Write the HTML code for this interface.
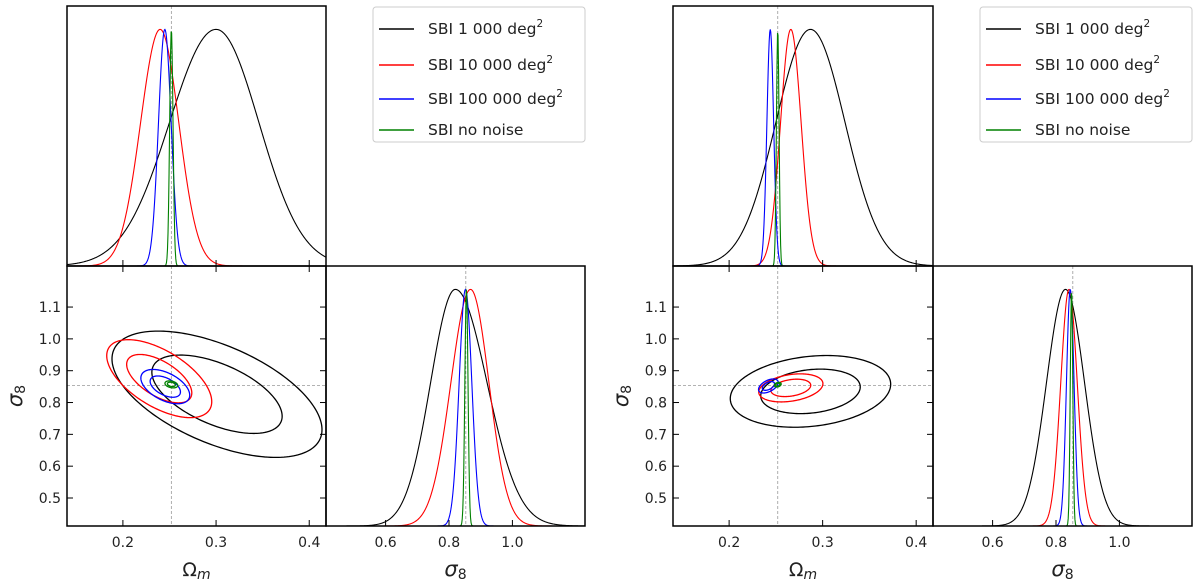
<!DOCTYPE html>
<html><head><meta charset="utf-8">
<style>
html,body{margin:0;padding:0;background:#fff;}
svg{display:block;font-family:"DejaVu Sans","Liberation Sans",sans-serif;}
</style></head>
<body>
<svg id="fig" width="1200" height="583" viewBox="0 0 1200 583" xmlns="http://www.w3.org/2000/svg"></svg>
<script>
// ---- data ----
const seriesNames = ["SBI 1 000 deg", "SBI 10 000 deg", "SBI 100 000 deg", "SBI no noise"];
const seriesSup = ["2", "2", "2", ""];
const seriesColors = ["#000000", "#ff0000", "#0000ff", "#008000"];
const omegaTicks = [0.2, 0.3, 0.4];
const sigmaYTicks = [0.5, 0.6, 0.7, 0.8, 0.9, 1.0, 1.1];
const sigmaXTicks = [0.6, 0.8, 1.0];
const omegaRange = [0.14, 0.418];
const sigmaRange = [0.412, 1.229];
const truthOmega = 0.252;
const truthSigma = 0.853;
// Left figure — Omega_m marginal: mean, left sigma, right sigma
const leftOmMean = [0.300, 0.240, 0.245, 0.252];
const leftOmSigL = [0.050, 0.021, 0.0068, 0.0018];
const leftOmSigR = [0.046, 0.020, 0.0068, 0.0018];
// Left figure — sigma8 marginal
const leftS8Mean = [0.820, 0.868, 0.852, 0.855];
const leftS8SigL = [0.078, 0.062, 0.020, 0.005];
const leftS8SigR = [0.100, 0.058, 0.020, 0.005];
// Left figure — 2D contours: centre Om, centre s8, sd Om, sd s8, correlation
const leftCxOm = [0.301, 0.239, 0.2455, 0.252];
const leftCyS8 = [0.826, 0.875, 0.850, 0.857];
const leftSdOm = [0.046, 0.023, 0.0107, 0.0028];
const leftSdS8 = [0.081, 0.050, 0.022, 0.0045];
const leftRho = [-0.56, -0.59, -0.5, -0.3];
// Right figure — Omega_m marginal
const rightOmMean = [0.287, 0.266, 0.244, 0.252];
const rightOmSigL = [0.037, 0.011, 0.0036, 0.0014];
const rightOmSigR = [0.037, 0.011, 0.0036, 0.0014];
// Right figure — sigma8 marginal
const rightS8Mean = [0.830, 0.841, 0.845, 0.849];
const rightS8SigL = [0.060, 0.026, 0.012, 0.004];
const rightS8SigR = [0.060, 0.026, 0.012, 0.004];
// Right figure — 2D contours
const rightCxOm = [0.287, 0.266, 0.242, 0.252];
const rightCyS8 = [0.835, 0.846, 0.852, 0.856];
const rightSdOm = [0.035, 0.014, 0.0043, 0.0015];
const rightSdS8 = [0.046, 0.018, 0.009, 0.003];
const rightRho = [0.2, 0.3, 0.5, 0.3];
const contourLevels = [1.52, 2.45];

const NS = "http://www.w3.org/2000/svg";
const svg = document.getElementById("fig");
function mk(tag, attrs, parent) {
  const e = document.createElementNS(NS, tag);
  for (const k in attrs) e.setAttribute(k, attrs[k]);
  (parent || svg).appendChild(e);
  return e;
}
function lin(d0, d1, r0, r1) { return v => r0 + (v - d0) / (d1 - d0) * (r1 - r0); }
function dens(x, m, sl, sr) { const s = x < m ? sl : sr; return Math.exp(-0.5 * ((x - m) / s) ** 2); }

function drawFigure(x0, xm, x1, yT, yM, yB, d, id) {
  const g = mk("g", {});
  
  
  const sxOm = lin(omegaRange[0], omegaRange[1], x0, xm);
  const sxS8 = lin(sigmaRange[0], sigmaRange[1], xm, x1);
  const syS8 = lin(sigmaRange[0], sigmaRange[1], yB, yM);
  const peakH = 0.91;
  const tp = mk("g", {}, g);
  
  
  const vdash = mk("line", {x1: sxOm(truthOmega), x2: sxOm(truthOmega), y1: yT, y2: yB, stroke: "#999", "stroke-width": 0.8, "stroke-dasharray": "3,2"}, tp);
  
  
  const sdash = mk("line", {x1: x0, x2: xm, y1: syS8(truthSigma), y2: syS8(truthSigma), stroke: "#999", "stroke-width": 0.8, "stroke-dasharray": "3,2"}, g);
  
  
  const v2 = mk("line", {x1: sxS8(truthSigma), x2: sxS8(truthSigma), y1: yM, y2: yB, stroke: "#999", "stroke-width": 0.8, "stroke-dasharray": "3,2"}, g);
  
  

  for (let i = 0; i < 4; i++) {
    let p = "";
    const N = 500;
    for (let k = 0; k <= N; k++) {
      const v = omegaRange[0] + (omegaRange[1] - omegaRange[0]) * k / N;
      const y = yM - peakH * (yM - yT) * dens(v, d.omM[i], d.omL[i], d.omR[i]);
      p += (k ? "L" : "M") + sxOm(v).toFixed(2) + "," + y.toFixed(2);
    }
    const c = mk("path", {d: p, fill: "none", stroke: seriesColors[i], "stroke-width": 1.1}, tp);
    
    
    let q = "";
    for (let k = 0; k <= N; k++) {
      const v = sigmaRange[0] + (sigmaRange[1] - sigmaRange[0]) * k / N;
      const y = yB - peakH * (yB - yM) * dens(v, d.s8M[i], d.s8L[i], d.s8R[i]);
      q += (k ? "L" : "M") + sxS8(v).toFixed(2) + "," + y.toFixed(2);
    }
    const c2 = mk("path", {d: q, fill: "none", stroke: seriesColors[i], "stroke-width": 1.1}, g);
    
    
    for (const lev of contourLevels) {
      let r = "";
      for (let k = 0; k <= 200; k++) {
        const t = 2 * Math.PI * k / 200;
        const om = d.cx[i] + lev * d.sx[i] * Math.cos(t);
        const s8 = d.cy[i] + lev * d.sy[i] * (d.rho[i] * Math.cos(t) + Math.sqrt(1 - d.rho[i] ** 2) * Math.sin(t));
        r += (k ? "L" : "M") + sxOm(om).toFixed(2) + "," + syS8(s8).toFixed(2);
      }
      const e = mk("path", {d: r + "Z", fill: "none", stroke: seriesColors[i], "stroke-width": 1.3}, g);
      
      
    }
  }
  const frames = [[x0, yT, xm - x0, yM - yT], [x0, yM, xm - x0, yB - yM], [xm, yM, x1 - xm, yB - yM]];
  const fnames = ['top-panel-frame', 'contour-panel-frame', 'sigma8-panel-frame'];
  frames.forEach((f, j) => {
    const r = mk("rect", {x: f[0], y: f[1], width: f[2], height: f[3], fill: "none", stroke: "#000", "stroke-width": 1.5}, g);
    
    
  });
  omegaTicks.forEach(t => {
    const x = sxOm(t);
    mk("line", {x1: x, x2: x, y1: yM - 6, y2: yM + 6, stroke: "#000", "stroke-width": 1}, g);
    mk("line", {x1: x, x2: x, y1: yB, y2: yB - 6, stroke: "#000", "stroke-width": 1}, g);
    const tl = mk("text", {x: x, y: yB + 21, "text-anchor": "middle", "font-size": 14, fill: "#222"}, g);
    tl.textContent = t.toFixed(1);
    
    
  });
  sigmaYTicks.forEach(t => {
    const y = syS8(t);
    mk("line", {x1: x0, x2: x0 + 6, y1: y, y2: y, stroke: "#000", "stroke-width": 1}, g);
    mk("line", {x1: xm, x2: xm - 6, y1: y, y2: y, stroke: "#000", "stroke-width": 1}, g);
    const tl = mk("text", {x: x0 - 6, y: y + 5, "text-anchor": "end", "font-size": 14, fill: "#222"}, g);
    tl.textContent = t.toFixed(1);
    
    
  });
  sigmaXTicks.forEach(t => {
    const x = sxS8(t);
    mk("line", {x1: x, x2: x, y1: yB, y2: yB - 6, stroke: "#000", "stroke-width": 1}, g);
    const tl = mk("text", {x: x, y: yB + 21, "text-anchor": "middle", "font-size": 14, fill: "#222"}, g);
    tl.textContent = t.toFixed(1);
    
    
  });
  const xl = mk("text", {x: (x0 + xm) / 2, y: yB + 50, "text-anchor": "middle", "font-size": 19, fill: "#222"}, g);
  xl.innerHTML = 'Ω<tspan font-style="italic" font-size="14" dy="3">m</tspan>';
  
  
  const xl2 = mk("text", {x: (xm + x1) / 2, y: yB + 50, "text-anchor": "middle", "font-size": 21, "font-style": "italic", fill: "#222"}, g);
  xl2.innerHTML = 'σ<tspan font-size="14" dy="3" font-style="normal">8</tspan>';
  
  
  const yl = mk("text", {x: 0, y: 0, "text-anchor": "middle", "font-size": 21, "font-style": "italic", fill: "#222", transform: `translate(${x0 - 45},${(yM + yB) / 2}) rotate(-90)`}, g);
  yl.innerHTML = 'σ<tspan font-size="14" dy="3" font-style="normal">8</tspan>';
  
  
  const lg = mk("g", {}, g);
  
  
  const lx = xm + 47, lw = x1 - lx;
  mk("rect", {x: lx, y: 7, width: lw, height: 135, rx: 3, fill: "#fff", stroke: "#ccc", "stroke-width": 1}, lg);
  const ly = [25, 61, 95, 126];
  for (let i = 0; i < 4; i++) {
    const e = mk("g", {}, lg);
    
    
    mk("line", {x1: lx + 6, x2: lx + 41, y1: ly[i] + 4, y2: ly[i] + 4, stroke: seriesColors[i], "stroke-width": 1.5}, e);
    const t = mk("text", {x: lx + 55, y: ly[i] + 9, "font-size": 15.5, fill: "#222"}, e);
    t.innerHTML = seriesNames[i] + (seriesSup[i] ? '<tspan font-size="10.5" dy="-7">' + seriesSup[i] + '</tspan>' : '');
  }
}
drawFigure(67, 326, 585, 6, 266, 526, {omM: leftOmMean, omL: leftOmSigL, omR: leftOmSigR, s8M: leftS8Mean, s8L: leftS8SigL, s8R: leftS8SigR, cx: leftCxOm, cy: leftCyS8, sx: leftSdOm, sy: leftSdS8, rho: leftRho}, 'left');
drawFigure(673, 933, 1192, 6, 266, 526, {omM: rightOmMean, omL: rightOmSigL, omR: rightOmSigR, s8M: rightS8Mean, s8L: rightS8SigL, s8R: rightS8SigR, cx: rightCxOm, cy: rightCyS8, sx: rightSdOm, sy: rightSdS8, rho: rightRho}, 'right');
</script>
</body></html>
